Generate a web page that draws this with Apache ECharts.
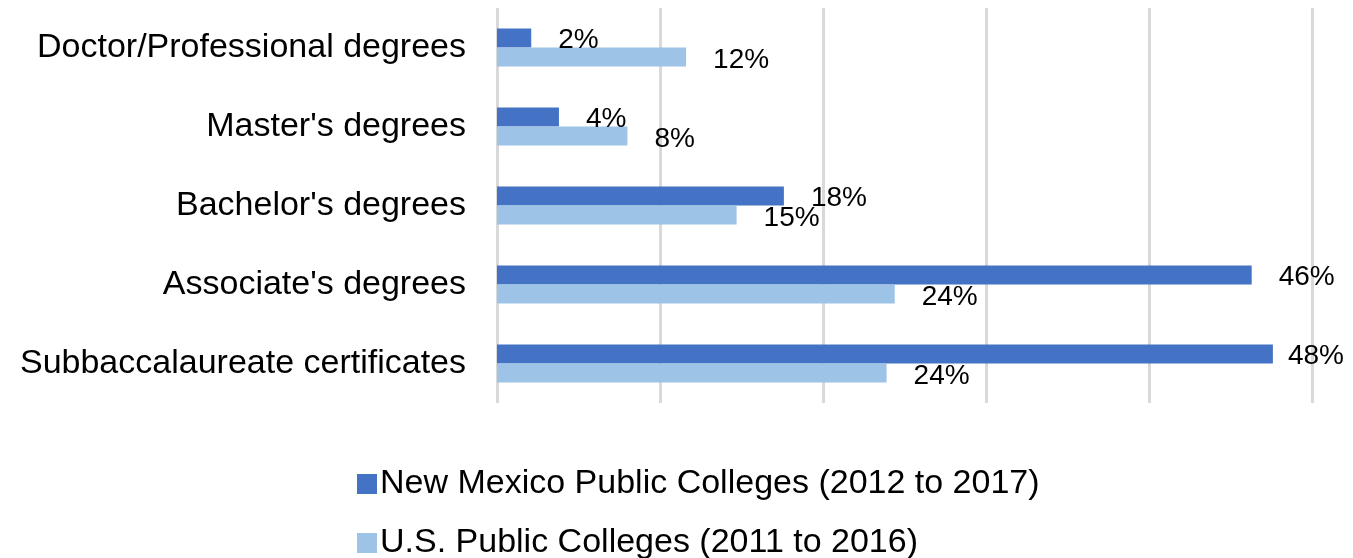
<!DOCTYPE html>
<html><head><meta charset="utf-8">
<script src="https://cdn.jsdelivr.net/npm/echarts@6/dist/echarts.min.js"></script>
<style>html,body{margin:0;padding:0;background:#fff}#c{width:1353px;height:558px}</style>
</head><body><div id="c"></div>
<script>
const categories = ["Subbaccalaureate certificates", "Associate's degrees", "Bachelor's degrees", "Master's degrees", "Doctor/Professional degrees"];
const seriesNames = ["New Mexico Public Colleges (2012 to 2017)", "U.S. Public Colleges (2011 to 2016)"];
const nmValues = [47.6, 46.3, 17.6, 3.8, 2.1];
const usValues = [23.9, 24.4, 14.7, 8.0, 11.6];
const xTicks = [0, 10, 20, 30, 40, 50];

const font = 'Liberation Sans, Arial, sans-serif';
const chart = echarts.init(document.getElementById('c'));
const lbl = (dy) => ({
  show: true, position: 'right', distance: 27, offset: [0, dy],
  color: '#000', fontSize: 28, fontFamily: font,
  formatter: p => Math.round(p.value) + '%'
});
// keep labels inside the canvas when the bar is near the right edge
const buildData = (vals) => vals.map(v => v > 47 ? { value: v, label: { distance: 15 } } : v);
const legendText = { fontSize: 34, fontFamily: font, color: '#000', padding: [0, 0, 0, -2] };
chart.setOption({
  animation: false,
  grid: { left: 497, right: 41, top: 8, bottom: 155, containLabel: false },
  legend: [
    { left: 352, top: 462, itemWidth: 20, itemHeight: 20, icon: 'rect', textStyle: legendText, data: [seriesNames[0]], selectedMode: false },
    { left: 352, top: 521, itemWidth: 20, itemHeight: 20, icon: 'rect', textStyle: legendText, data: [seriesNames[1]], selectedMode: false }
  ],
  xAxis: {
    type: 'value', min: xTicks[0], max: xTicks[xTicks.length - 1], interval: 10,
    axisLabel: { show: false }, axisLine: { show: false }, axisTick: { show: false },
    splitLine: { show: true, lineStyle: { color: '#d9d9d9', width: 3 } }
  },
  yAxis: {
    type: 'category', data: categories,
    axisLine: { show: false }, axisTick: { show: false },
    axisLabel: { color: '#000', fontSize: 34, fontFamily: font, margin: 31 }
  },
  series: [
    { name: seriesNames[0], type: 'bar', data: buildData(nmValues), itemStyle: { color: '#4472C4' },
      barGap: '0%', barCategoryGap: '52%', label: lbl(2) },
    { name: seriesNames[1], type: 'bar', data: usValues, itemStyle: { color: '#9DC3E6' },
      barGap: '0%', barCategoryGap: '52%', label: lbl(3) }
  ]
});
</script></body></html>
